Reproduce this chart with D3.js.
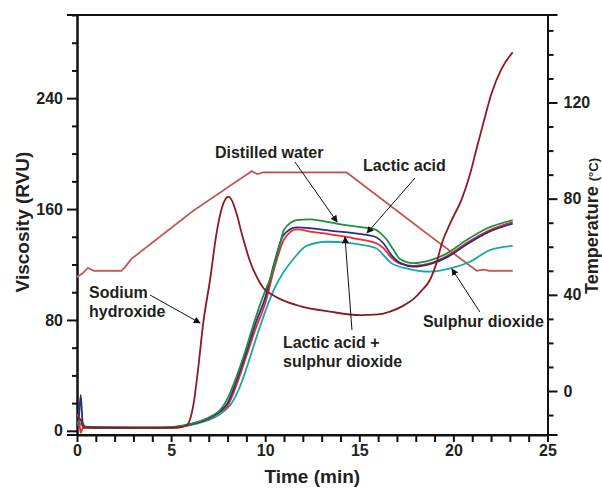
<!DOCTYPE html>
<html>
<head>
<meta charset="utf-8">
<script src="https://cdn.jsdelivr.net/npm/d3@7"></script>
<style>
  body { margin: 0; background: #fff; }
  text { font-family: "Liberation Sans", Arial, sans-serif; font-weight: bold; fill: #231f20; }
</style>
</head>
<body>
<div id="chart"></div>
<script>
// time (min), viscosity (RVU) pairs
const water = [[0,5],[0.2,8],[0.35,3],[0.6,2.5],[2,2.4],[4,2.3],[5,2.6],[5.5,3.5],[6,5],[6.7,7.8],[7.2,11],[7.6,15],[7.95,22],[8.5,40],[9,60],[9.5,82],[10,101],[10.25,109],[10.79,135],[11,145],[11.67,152],[12.38,152.6],[13,151.5],[13.62,150],[14.5,148],[15.2,146.8],[15.8,145.5],[16.1,143],[16.45,138],[16.8,131],[17.16,124],[17.87,121],[18.76,123],[19.65,128],[20.7,137.6],[21.77,146],[23.15,152]];
const lactic = [[0,4],[0.1,10],[0.2,26],[0.3,6],[0.45,3],[2,2.4],[4,2.3],[5,2.5],[5.5,3.3],[6,4.7],[6.7,7.4],[7.2,10.5],[7.6,14],[8,20],[8.5,37],[9,57],[9.5,78],[10,96],[10.5,122],[10.96,141],[11.67,146.8],[12.5,146],[13.44,144.4],[14.5,143],[15.4,141.3],[15.92,139.5],[16.3,135],[16.7,127],[17.2,121],[17.9,118.5],[18.8,120.5],[19.7,125.5],[20.7,134.5],[21.8,143],[23.15,149.5]];
const lacticSO2 = [[0,12],[0.1,9],[0.2,-1.5],[0.3,2],[0.5,2.3],[2,2.2],[4,2.1],[5,2.3],[5.5,3],[6,4.3],[6.7,7],[7.2,10],[7.6,13.5],[8,18],[8.5,34],[9,54],[9.5,74],[10,92],[10.5,118],[11,138],[11.67,145.4],[12.5,143.5],[13.44,141.8],[14.5,139.5],[15.2,137.7],[15.9,135.3],[16.27,132],[16.7,125],[17.2,120.5],[17.9,119],[18.8,121],[19.7,126.5],[20.7,135.5],[21.8,144],[23.15,150.5]];
const so2 = [[0,4],[0.2,5],[0.35,3],[0.6,2.6],[2,2.5],[4,2.4],[5,2.5],[5.5,3.2],[6,4.2],[6.7,6.5],[7.2,9],[7.6,12],[8.22,20],[8.6,30],[9,45],[9.5,66],[10,86],[10.5,103],[11,115],[11.5,124],[12.2,133.5],[13.3,136.4],[14.5,135.5],[15.2,134],[15.9,131.7],[16.3,126.5],[16.7,121],[17.5,117.2],[18.76,114.8],[19.82,117.2],[20.88,122],[21.94,130.4],[23.15,133.5]];
const sodium = [[0,10],[0.2,8],[0.35,2.5],[0.6,2.2],[2,2.2],[4,2.1],[5,2.2],[5.5,2.6],[5.83,4],[6.0,8],[6.2,20],[6.43,44],[6.7,77],[7.07,109],[7.42,143],[7.7,161],[7.9,167.5],[8.04,169],[8.2,167],[8.45,158],[8.8,140],[9.2,122],[9.63,109],[9.9,103],[10.4,98],[10.8,95],[11.85,90],[13.44,86],[15.04,83.5],[16,84],[16.63,86],[17.3,90],[17.87,95],[18.3,101],[18.76,109],[19.1,121],[19.38,135],[19.91,152],[20.44,167],[20.9,186],[21.24,204],[21.59,222],[22.03,243.5],[22.57,261.5],[23.15,273]];
// time (min), temperature (°C)
const temperature = [[0,47.4],[0.3,49],[0.58,51.2],[0.9,50],[2.37,50],[2.6,52],[2.9,55],[6.18,75],[9.28,91.4],[9.6,90.2],[9.9,91],[11,90.9],[14.33,90.9],[18.76,64.5],[21.24,50],[21.6,50.5],[21.9,50],[23.15,50]];

const series = [
  { name: "Sulphur dioxide", values: so2, color: "#1ba6a8" },
  { name: "Lactic acid + sulphur dioxide", values: lacticSO2, color: "#ec2a2c" },
  { name: "Lactic acid", values: lactic, color: "#2c2d83" },
  { name: "Distilled water", values: water, color: "#1f8f3e" },
  { name: "Sodium hydroxide", values: sodium, color: "#8c1b1f" }
];

const viscTicks = [0, 80, 160, 240];
const tempTicks = [0, 40, 80, 120];
const timeTicks = [0, 5, 10, 15, 20, 25];

// label text and positions in data units (time, viscosity)
const notes = [
  { lines: ["Distilled water"], at: [7.33, 196.8], from: [11.58, 194.0], to: [13.82, 150.7] },
  { lines: ["Lactic acid"], at: [15.2, 187.5], from: [17.96, 182.4], to: [15.41, 142.7] },
  { lines: ["Lactic acid +", "sulphur dioxide"], at: [10.95, 59.8], from: [14.61, 72.8], to: [14.24, 139.8] },
  { lines: ["Sulphur dioxide"], at: [18.38, 74.9], from: [21.41, 85.7], to: [19.92, 116.8] },
  { lines: ["Sodium", "hydroxide"], at: [0.64, 95.8], from: [3.88, 98.0], to: [6.54, 77.8] }
];

var width = 602, height = 488;
var plotLeft = 77, plotRight = 547.5, plotTop = 15, plotBottom = 435;

var x = d3.scaleLinear().domain([0, 25]).range([plotLeft, plotRight]);
var yV = d3.scaleLinear().domain([-3, 300]).range([plotBottom, plotTop]);
var yT = d3.scaleLinear().domain([-18.3, 156.4]).range([plotBottom, plotTop]);

var svg = d3.select("#chart").append("svg")
    .attr("width", width)
    .attr("height", height);

svg.append("defs").append("marker")
    .attr("id", "head")
    .attr("viewBox", "0 0 10 10")
    .attr("refX", 9).attr("refY", 5)
    .attr("markerWidth", 7).attr("markerHeight", 7)
    .attr("markerUnits", "userSpaceOnUse")
    .attr("orient", "auto")
    .append("path").attr("d", "M0,0L10,5L0,10z").attr("fill", "#111");

function styleAxis(g) {
    g.selectAll("path, line").attr("stroke", "#111").attr("stroke-width", 2);
    g.selectAll("text").attr("font-size", 16).attr("fill", "#231f20");
}

function range(a, b, step) {
    var out = [];
    for (var v = a; v <= b + 1e-9; v += step) out.push(v);
    return out;
}

// left axis (viscosity)
svg.append("g").attr("transform", "translate(" + plotLeft + ",0)")
    .call(d3.axisLeft(yV).tickValues(range(0, 300, 20).filter(d => viscTicks.indexOf(d) < 0)).tickSize(5).tickSizeOuter(0).tickFormat(""))
    .call(styleAxis);
svg.append("g").attr("transform", "translate(" + plotLeft + ",0)")
    .call(d3.axisLeft(yV).tickValues(viscTicks).tickSize(10).tickPadding(4).tickSizeOuter(0))
    .call(styleAxis);

// right axis (temperature)
svg.append("g").attr("transform", "translate(" + plotRight + ",0)")
    .call(d3.axisRight(yT).tickValues(range(-10, 150, 10).filter(d => tempTicks.indexOf(d) < 0)).tickSize(6).tickSizeOuter(0).tickFormat(""))
    .call(styleAxis);
svg.append("g").attr("transform", "translate(" + plotRight + ",0)")
    .call(d3.axisRight(yT).tickValues(tempTicks).tickSize(10).tickPadding(6).tickSizeOuter(0))
    .call(styleAxis);

// bottom axis (time)
svg.append("g").attr("transform", "translate(0," + plotBottom + ")")
    .call(d3.axisBottom(x).tickValues(range(0, 25, 1)).tickSize(7).tickSizeOuter(0)
        .tickFormat(d => timeTicks.indexOf(d) >= 0 ? d : ""))
    .call(styleAxis);

// frame lines top and bottom running past both axes
[plotTop, plotBottom].forEach(function (yy) {
    svg.append("line")
        .attr("x1", plotLeft - 10).attr("x2", plotRight + 10)
        .attr("y1", yy).attr("y2", yy)
        .attr("stroke", "#111").attr("stroke-width", 2);
});

// titles
svg.append("text").attr("transform", "translate(29,222) rotate(-90)")
    .attr("text-anchor", "middle").attr("font-size", 19).text("Viscosity (RVU)");
svg.append("text").attr("x", (plotLeft + plotRight) / 2).attr("y", 483)
    .attr("text-anchor", "middle").attr("font-size", 19).text("Time (min)");
var tt = svg.append("text").attr("transform", "translate(598,226) rotate(-90)")
    .attr("text-anchor", "middle").attr("font-size", 18);
tt.append("tspan").text("Temperature ");
tt.append("tspan").attr("font-size", 13).text("(°C)");

// temperature profile
var tempLine = d3.line().x(d => x(d[0])).y(d => yT(d[1]));
svg.append("path").datum(temperature)
    .attr("fill", "none").attr("stroke", "#a3b0b0").attr("stroke-width", 2)
    .attr("d", tempLine);
svg.append("path").datum(temperature)
    .attr("fill", "none").attr("stroke", "#e0403b").attr("stroke-width", 1.2)
    .attr("d", tempLine);

// viscosity curves
var line = d3.line().x(d => x(d[0])).y(d => yV(d[1])).curve(d3.curveMonotoneX);
svg.append("g").selectAll("path")
    .data(series)
    .join("path")
    .attr("fill", "none")
    .attr("stroke", d => d.color)
    .attr("stroke-width", 1.8)
    .attr("d", d => line(d.values));

// annotations
var ann = svg.append("g");
notes.forEach(function (n) {
    ann.append("line")
        .attr("x1", x(n.from[0])).attr("y1", yV(n.from[1]))
        .attr("x2", x(n.to[0])).attr("y2", yV(n.to[1]))
        .attr("stroke", "#111").attr("stroke-width", 1)
        .attr("marker-end", "url(#head)");
    var t = ann.append("text").attr("font-size", 16);
    n.lines.forEach(function (s, i) {
        t.append("tspan").attr("x", x(n.at[0])).attr("y", yV(n.at[1]) + i * 19).text(s);
    });
});
</script>
</body>
</html>
